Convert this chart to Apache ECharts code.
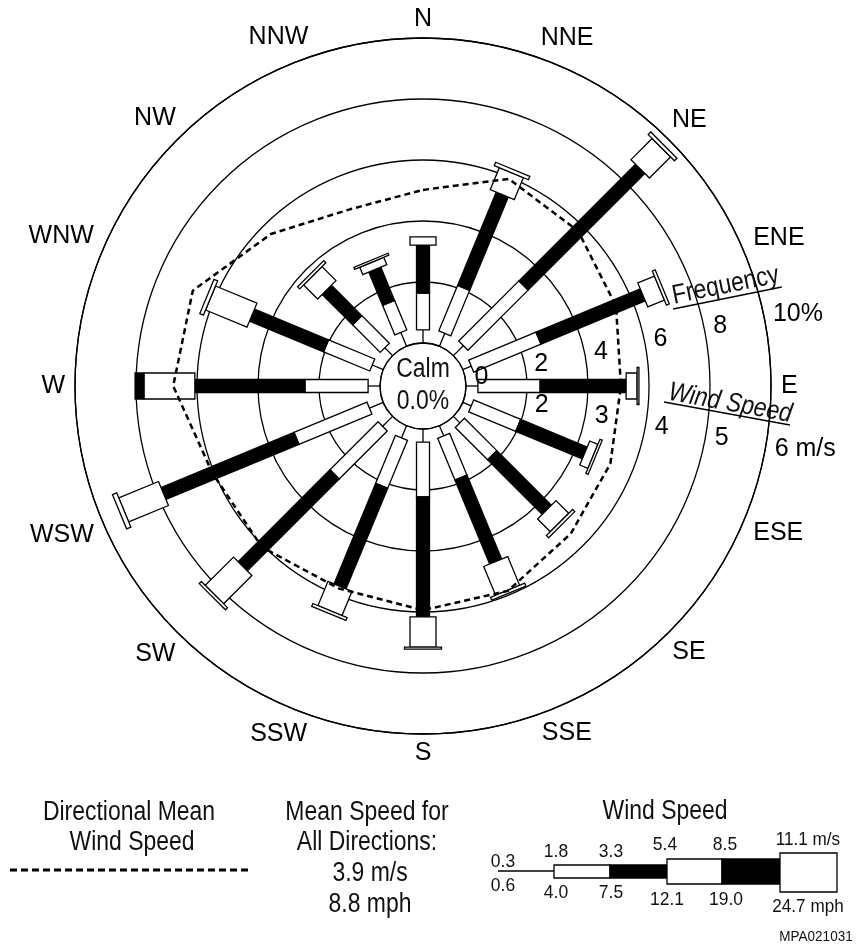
<!DOCTYPE html>
<html><head><meta charset="utf-8">
<script src="https://cdn.jsdelivr.net/npm/echarts@6/dist/echarts.min.js"></script>
<style>html,body{margin:0;padding:0;background:#fff}#c{width:857px;height:950px}</style>
</head><body><div id="c"></div>
<script>
// ---- data ----
const directions = ['N','NNE','NE','ENE','E','ESE','SE','SSE','S','SSW','SW','WSW','W','WNW','NW','NNW'];
const dirAngles = [0,22.5,45,67.5,90,112.5,135,157.5,180,202.5,225,247.5,270,292.5,315,337.5];
// frequency (%) by speed class, per direction
const freq_03_18  = [0.43,0.46,0.46,0.30,0.39,0.30,0.30,0.36,0.43,0.43,0.46,0.49,0.39,0.39,0.36,0.49];
const freq_18_33  = [1.21,1.61,2.79,2.39,2.04,1.67,1.50,1.48,1.80,1.70,2.23,2.59,2.07,1.64,1.28,1.05];
const freq_33_54  = [1.57,3.31,5.41,3.70,2.82,2.36,2.53,2.98,3.93,3.57,4.26,4.72,3.61,2.63,1.41,1.18];
const freq_54_85  = [0.27,0.78,0.98,0.59,0.36,0.29,0.59,1.02,0.99,0.86,1.31,1.41,1.67,1.47,0.65,0.26];
const freq_85_111 = [0,0,0,0,0,0,0,0,0,0,0,0,0.29,0,0,0];
const freq_gt111  = [0,0.12,0.12,0.10,0.06,0.08,0.10,0.10,0.07,0.10,0.10,0.15,0,0.13,0.10,0.07];
// directional mean wind speed (m/s)
const meanSpeed = [3.51,3.97,3.89,3.72,3.54,3.62,3.72,3.93,3.97,3.89,4.03,4.03,4.39,4.38,3.82,3.43];
// tick labels
const freqTicks = [0,2,4,6,8,10];
const freqTickLabels = ['0','2','4','6','8','10%'];
const speedTicks = [2,3,4,5,6];
const speedTickLabels = ['2','3','4','5','6 m/s'];
// legend
const legendSpeedMs = ['0.3','1.8','3.3','5.4','8.5','11.1 m/s'];
const legendSpeedMph = ['0.6','4.0','7.5','12.1','19.0','24.7 mph'];

const classes = [freq_03_18, freq_18_33, freq_33_54, freq_54_85, freq_85_111, freq_gt111];
const FONT = "'Liberation Sans',Arial,sans-serif";
const classWidth = [0, 13, 13, 26, 26, 37];
const classFill = ['#000', '#fff', '#000', '#fff', '#000', '#fff'];

const chart = echarts.init(document.getElementById('c'), null, {renderer: 'canvas'});
const CX = 423, CY = 386;

function renderBar(params, api) {
  const i = api.value(2);
  const ang = api.value(1);
  let cum = 0;
  const children = [];
  for (let k = 0; k < classes.length; k++) {
    const v = classes[k][i];
    if (!v) continue;
    const a = api.coord([cum, ang]);
    const b = api.coord([cum + v, ang]);
    cum += v;
    if (k === 0) {
      children.push({type: 'line', shape: {x1: a[0], y1: a[1], x2: b[0], y2: b[1]},
        style: {stroke: '#000', lineWidth: 1.3}});
      continue;
    }
    const dx = b[0] - a[0], dy = b[1] - a[1];
    const L = Math.hypot(dx, dy) || 1;
    const hw = classWidth[k] / 2;
    const nx = -dy / L * hw, ny = dx / L * hw;
    children.push({type: 'polygon', shape: {points: [
      [a[0] + nx, a[1] + ny], [b[0] + nx, b[1] + ny], [b[0] - nx, b[1] - ny], [a[0] - nx, a[1] - ny]]},
      style: {fill: classFill[k], stroke: '#000', lineWidth: 1.3}});
  }
  return {type: 'group', children};
}

const barData = directions.map((d, i) => [classes.reduce((s, c) => s + c[i], 0), dirAngles[i], i]);
const meanData = meanSpeed.map((s, i) => [s, dirAngles[i]]);
meanData.push([meanSpeed[0], 360]);

// compass labels: keep a constant gap between the outer circle and each label's box
const measureCtx = document.createElement('canvas').getContext('2d');
measureCtx.font = '25px ' + FONT;
const dirLabelData = dirAngles.map((a, i) => {
  const w = measureCtx.measureText(directions[i]).width;
  const rad = a * Math.PI / 180;
  const s = Math.sin(rad), c = Math.cos(rad);
  const ext = 10 + Math.abs(s) * w / 2 + Math.abs(c) * 9;
  return {value: [10, a], label: {offset: [s * ext, -c * ext]}};
});

const txt = (text, x, y, size, sx) => ({type: 'text', x, y, scaleX: sx || 0.85, style: {
  text, font: size + 'px ' + FONT, fill: '#111',
  align: 'center', textAlign: 'center', verticalAlign: 'middle', textVerticalAlign: 'middle'}});

const graphics = [
  txt('Calm', CX, 370, 27), txt('0.0%', CX, 402, 27),
  {type: 'group', x: 673, y: 309, rotation: 0.2, children: [
    {type: 'line', shape: {x1: 0, y1: 0, x2: 111, y2: 0}, style: {stroke: '#000', lineWidth: 1.5}},
    {type: 'text', x: 2, y: 1, scaleX: 0.85, style: {text: 'Frequency', font: '27px ' + FONT, fill: '#111',
      align: 'left', textAlign: 'left', verticalAlign: 'bottom', textVerticalAlign: 'bottom'}}
  ]},
  {type: 'group', x: 664, y: 402, rotation: -0.18, children: [
    {type: 'line', shape: {x1: 0, y1: 0, x2: 128, y2: 0}, style: {stroke: '#000', lineWidth: 1.5}},
    {type: 'text', x: 3, y: 3, scaleX: 0.85, style: {text: 'Wind Speed', font: 'italic 27px ' + FONT, fill: '#111',
      align: 'left', textAlign: 'left', verticalAlign: 'bottom', textVerticalAlign: 'bottom'}}
  ]},
  // bottom legend: directional mean
  txt('Directional Mean', 129, 813, 27), txt('Wind Speed', 132, 843, 27),
  {type: 'line', shape: {x1: 10, y1: 870, x2: 248, y2: 870}, style: {stroke: '#000', lineWidth: 3, lineDash: [7, 4]}},
  // mean speed
  txt('Mean Speed for', 367, 813, 27), txt('All Directions:', 367, 843, 27),
  txt('3.9 m/s', 370, 874, 27), txt('8.8 mph', 370, 905, 27),
  // wind speed key
  txt('Wind Speed', 665, 812, 27),
  {type: 'line', shape: {x1: 498, y1: 871, x2: 554, y2: 871}, style: {stroke: '#000', lineWidth: 1.3}},
  {type: 'rect', shape: {x: 554, y: 865, width: 56, height: 13}, style: {fill: '#fff', stroke: '#000', lineWidth: 1.3}},
  {type: 'rect', shape: {x: 610, y: 865, width: 57, height: 13}, style: {fill: '#000', stroke: '#000', lineWidth: 1.3}},
  {type: 'rect', shape: {x: 667, y: 859, width: 55, height: 25}, style: {fill: '#fff', stroke: '#000', lineWidth: 1.3}},
  {type: 'rect', shape: {x: 722, y: 859, width: 58, height: 25}, style: {fill: '#000', stroke: '#000', lineWidth: 1.3}},
  {type: 'rect', shape: {x: 780, y: 853, width: 57, height: 39}, style: {fill: '#fff', stroke: '#000', lineWidth: 1.3}},
  txt(legendSpeedMs[0], 503, 862, 19, 0.92), txt(legendSpeedMs[1], 556, 852, 19, 0.92), txt(legendSpeedMs[2], 611, 852, 19, 0.92),
  txt(legendSpeedMs[3], 665, 845, 19, 0.92), txt(legendSpeedMs[4], 725, 845, 19, 0.92), txt(legendSpeedMs[5], 808, 840, 19, 0.9),
  txt(legendSpeedMph[0], 503, 886, 19, 0.92), txt(legendSpeedMph[1], 556, 893, 19, 0.92), txt(legendSpeedMph[2], 611, 893, 19, 0.92),
  txt(legendSpeedMph[3], 667, 900, 19, 0.92), txt(legendSpeedMph[4], 726, 900, 19, 0.92), txt(legendSpeedMph[5], 808, 907, 19, 0.9),
  txt('MPA021031', 816, 937, 15, 0.9)
];

const hiddenAngle = idx => ({polarIndex: idx, type: 'value', min: 0, max: 360, startAngle: 90, clockwise: true, show: false});

const option = {
  animation: false,
  backgroundColor: '#fff',
  polar: [
    {center: [CX, CY], radius: [43, 348]},
    {center: [CX, CY], radius: [43, 348]}
  ],
  angleAxis: [
    {polarIndex: 0, type: 'value', min: 0, max: 360, interval: 22.5, startAngle: 90, clockwise: true,
      axisLine: {show: true, lineStyle: {color: '#000', width: 1.3}},
      axisTick: {show: false}, splitLine: {show: false}, axisLabel: {show: false}},
    hiddenAngle(1)
  ],
  radiusAxis: [
    {polarIndex: 0, type: 'value', min: 0, max: 10, interval: 2,
      axisLine: {show: false}, axisTick: {show: false}, axisLabel: {show: false},
      splitLine: {show: true, lineStyle: {color: '#000', width: 1.3}}},
    {polarIndex: 1, type: 'value', min: 1, max: 6, interval: 1, show: false, splitLine: {show: false}}
  ],
  series: [
    {type: 'custom', coordinateSystem: 'polar', polarIndex: 0, renderItem: renderBar,
      data: barData, encode: {radius: 0, angle: 1}, z: 3},
    {type: 'line', coordinateSystem: 'polar', polarIndex: 1, data: meanData, symbol: 'none',
      lineStyle: {color: '#000', width: 2.5, type: [6, 4]}, z: 5},
    {type: 'scatter', coordinateSystem: 'polar', polarIndex: 0, symbolSize: 1,
      itemStyle: {color: 'rgba(0,0,0,0)', opacity: 1},
      data: freqTicks.map(t => [t, 78]),
      label: {show: true, position: 'right', distance: 9, color: '#000', fontSize: 25, fontFamily: FONT,
        formatter: p => freqTickLabels[p.dataIndex]}, z: 6},
    {type: 'scatter', coordinateSystem: 'polar', polarIndex: 1, symbolSize: 1,
      itemStyle: {color: 'rgba(0,0,0,0)', opacity: 1},
      data: speedTicks.map(t => [t, 100.5]),
      label: {show: true, position: 'right', distance: 9, color: '#000', fontSize: 25, fontFamily: FONT,
        formatter: p => speedTickLabels[p.dataIndex]}, z: 6},
    // compass direction labels just outside the outer circle
    {type: 'scatter', coordinateSystem: 'polar', polarIndex: 0, symbolSize: 1,
      itemStyle: {color: 'rgba(0,0,0,0)', opacity: 1},
      data: dirLabelData,
      label: {show: true, position: 'inside', color: '#000', fontSize: 25, fontFamily: FONT,
        formatter: p => directions[p.dataIndex]}, z: 6}
  ],
  graphic: graphics
};
chart.setOption(option);
</script></body></html>
